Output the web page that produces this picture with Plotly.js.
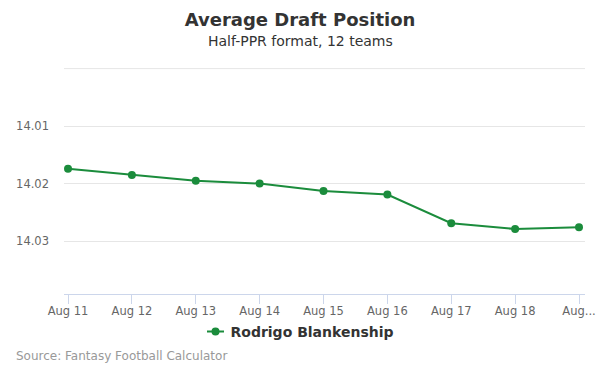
<!DOCTYPE html>
<html>
<head>
<meta charset="utf-8">
<script src="https://cdn.plot.ly/plotly-3.0.1.min.js"></script>
<style>html,body{margin:0;padding:0;background:#fff;}#chart{width:600px;height:375px;}</style>
</head>
<body>
<div id="chart"></div>
<script>
const categories = ["Aug 11","Aug 12","Aug 13","Aug 14","Aug 15","Aug 16","Aug 17","Aug 18","Aug 19"];
const tickLabels = ["Aug 11","Aug 12","Aug 13","Aug 14","Aug 15","Aug 16","Aug 17","Aug 18","Aug..."];
const adpValues = [14.0174, 14.0185, 14.0195, 14.0200, 14.0213, 14.0219, 14.0269, 14.0279, 14.0276];
const seriesName = "Rodrigo Blankenship";
const yTickVals = [14.01, 14.02, 14.03];
const yTickText = ["14.01", "14.02", "14.03"];
const topGridValue = 14.00;

const green = "#1b8c3c";
const font = "DejaVu Sans, Verdana, sans-serif";

const trace = {
  x: categories.map((c, i) => i),
  y: adpValues,
  name: seriesName,
  type: "scatter",
  mode: "lines+markers",
  line: {color: green, width: 2},
  marker: {color: green, size: 8},
  hoverinfo: "skip"
};

const layout = {
  width: 600, height: 375,
  margin: {l: 64, r: 15, t: 68, b: 81},
  paper_bgcolor: "#fff", plot_bgcolor: "#fff",
  font: {family: font, color: "#666", size: 12},
  title: {
    text: "<b>Average Draft Position</b>",
    font: {family: font, size: 18, color: "#333"},
    xref: "container", x: 0.5, xanchor: "center", y: 1 - 20 / 375, yanchor: "middle"
  },
  annotations: [
    {text: "Half-PPR format, 12 teams", xref: "paper", yref: "paper", x: (300 - 64) / 521, xanchor: "center",
     y: 1, yshift: 27, yanchor: "middle", showarrow: false, font: {family: font, size: 14, color: "#333"}},
    {text: "Source: Fantasy Football Calculator", xref: "paper", yref: "paper", x: 0, xshift: -50, xanchor: "left",
     y: 0, yshift: -62, yanchor: "middle", showarrow: false, font: {family: font, size: 12, color: "#999"}}
  ],
  shapes: [
    {type: "line", xref: "paper", x0: 0, x1: 1, yref: "y", y0: topGridValue, y1: topGridValue,
     line: {color: "#e6e6e6", width: 1}, layer: "below"}
  ],
  xaxis: {
    range: [-0.063, 8.094],
    tickmode: "array",
    tickvals: categories.map((c, i) => i),
    ticktext: tickLabels,
    showgrid: false,
    zeroline: false,
    showline: true, linecolor: "#ccd6eb", linewidth: 1,
    ticks: "outside", ticklen: 9, tickcolor: "#ccd6eb", tickwidth: 1,
    ticklabelstandoff: -3,
    tickfont: {family: font, size: 11.5, color: "#666"},
    fixedrange: true
  },
  yaxis: {
    range: [14.0392, 13.9999],
    tickmode: "array",
    tickvals: yTickVals,
    ticktext: yTickText,
    showgrid: true, gridcolor: "#e6e6e6", gridwidth: 1,
    zeroline: false, showline: false,
    ticks: "", ticklabelstandoff: 14,
    tickfont: {family: font, size: 11.5, color: "#666"},
    fixedrange: true
  },
  showlegend: true,
  legend: {
    orientation: "h", xref: "container", x: 0.5, xanchor: "center",
    yref: "container", y: 1 - 332 / 375, yanchor: "middle",
    bgcolor: "rgba(0,0,0,0)",
    font: {family: font, size: 14, color: "#333", weight: "bold"},
    itemwidth: 30
  }
};

Plotly.newPlot("chart", [trace], layout, {displayModeBar: false, staticPlot: true}).then(gd => {
  // shorten the legend line symbol to match the compact reference marker
  gd.querySelectorAll(".legend .legendlines path").forEach(p => p.setAttribute("d", "M11.5,0h17"));
  gd.querySelectorAll(".legend .legendtext").forEach(t => t.setAttribute("x", "35"));
});
</script>
</body>
</html>
